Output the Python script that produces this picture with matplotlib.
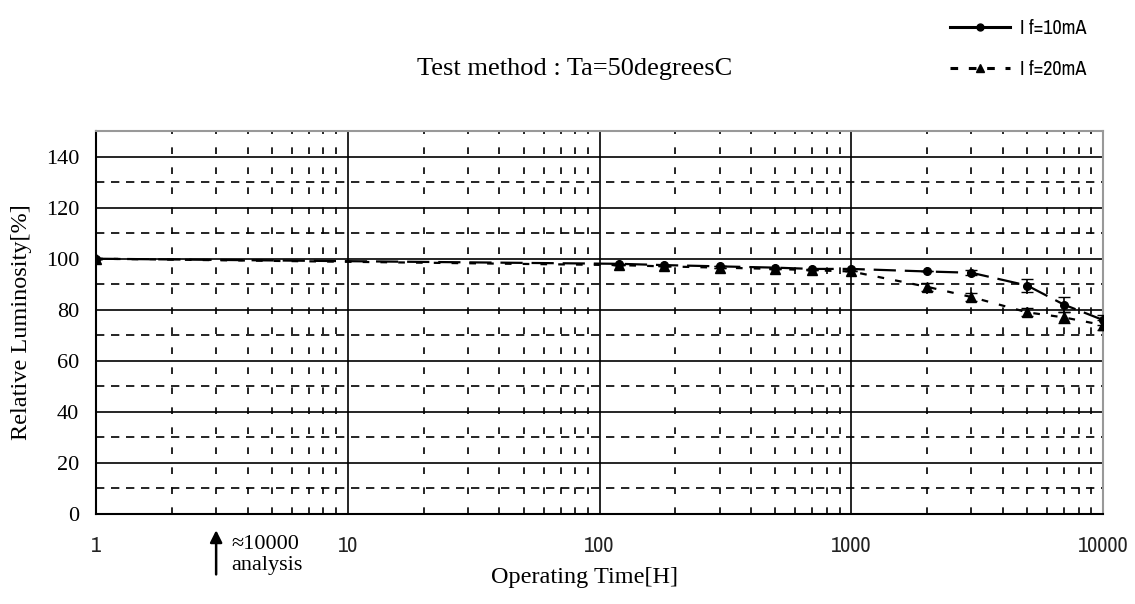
import numpy as np
import matplotlib
matplotlib.use("Agg")
import matplotlib.pyplot as plt
from matplotlib.lines import Line2D
from matplotlib.font_manager import fontManager, FontProperties
from matplotlib.ticker import LogLocator, FixedLocator, NullFormatter

# data
hours = [1, 120, 180, 300, 500, 700, 1000, 2000, 3000, 5000, 7000, 10000]
lum_10ma = [100, 98, 97.5, 97, 96.5, 96, 96, 95, 94.5, 89.5, 82, 76]
lum_20ma = [100, 97.5, 97, 96.5, 96, 95.5, 95, 89, 85, 79, 77, 74]
err_10ma = [0, 0, 0, 0, 0, 0, 0, 0, 1, 2.5, 3, 2]
err_20ma = [0, 0, 0, 0, 0, 0, 0, 1.5, 1.5, 1.5, 2, 2]

x_ticks = [1, 10, 100, 1000, 10000]
x_labels = ["1", "10", "100", "1000", "10000"]
y_ticks = [0, 20, 40, 60, 80, 100, 120, 140]

serif = "Liberation Serif"


def narrow_font(size):
    # pick a regular-weight condensed sans face if one is installed
    for f in fontManager.ttflist:
        if f.style != "normal" or f.weight not in (400, "normal", "regular"):
            continue
        if "Narrow" in f.name or "Condensed" in f.name:
            return FontProperties(family=f.name, weight="normal", size=size)
    for f in fontManager.ttflist:
        if f.style != "normal" or f.weight not in (400, "normal", "regular"):
            continue
        if f.stretch in ("condensed", "semi-condensed", "extra-condensed"):
            return FontProperties(family=f.name, stretch=f.stretch, weight="normal", size=size)
    return FontProperties(family="Liberation Sans", size=size)


fig = plt.figure(figsize=(11.35, 6.04), dpi=100)
ax = fig.add_axes([0.0846, 0.149, 0.8872, 0.634])

# grid
for y in range(20, 150, 20):
    ax.axhline(y, color="black", lw=1.2, zorder=1)
for y in range(10, 150, 20):
    ax.axhline(y, color="black", lw=1.2, ls=(0, (5, 4)), zorder=1)
for d in [1, 10, 100, 1000]:
    if d > 1:
        ax.axvline(d, color="black", lw=1.2, zorder=1)
    for m in range(2, 10):
        ax.axvline(d * m, color="black", lw=1.2, ls=(0, (4, 8)), zorder=1)

ax.errorbar(hours, lum_10ma, yerr=err_10ma, color="black", lw=1.6,
            ls=(0, (10, 4)), marker="o", ms=5.5, capsize=4, elinewidth=1.2, zorder=3)
ax.errorbar(hours, lum_20ma, yerr=err_20ma, color="black", lw=1.6,
            ls=(0, (3, 5)), marker="^", ms=6.5, capsize=4, elinewidth=1.2, zorder=3)

ax.set_xscale("log")
ax.set_xlim(1, 10000)
ax.set_ylim(0, 150)
ax.xaxis.set_major_locator(FixedLocator(x_ticks))
ax.set_xticklabels(x_labels, fontproperties=narrow_font(16), color="#222222")
ax.xaxis.set_minor_locator(LogLocator(subs=np.arange(2, 10)))
ax.xaxis.set_minor_formatter(NullFormatter())
ax.set_yticks(y_ticks)
ax.set_yticklabels([str(v) for v in y_ticks], fontfamily=serif, fontsize=16)
ax.tick_params(which="both", length=0)
ax.tick_params(axis="x", pad=16)
ax.tick_params(axis="y", pad=12)

for s in ["left", "bottom"]:
    ax.spines[s].set_linewidth(1.5)
for s in ["top", "right"]:
    ax.spines[s].set_color("#999999")
    ax.spines[s].set_linewidth(1.5)

ax.set_xlabel("Operating Time[H]", fontfamily=serif, fontsize=17.5, labelpad=8)
ax.xaxis.label.set_x(0.485)
ax.set_ylabel("Relative Luminosity[%]", fontfamily=serif, fontsize=17.5, labelpad=10)

fig.text(0.506, 0.885, "Test method : Ta=50degreesC", fontfamily=serif,
         fontsize=19, ha="center", va="center")

# analysis marker under the axis
trans = ax.get_xaxis_transform()
ax.annotate("", xy=(3, -0.035), xytext=(3, -0.165), xycoords=trans, textcoords=trans,
            arrowprops=dict(arrowstyle="-|>", color="black", lw=1.8, mutation_scale=18))
ax.text(3.45, -0.055, "\u224810000\nanalysis", transform=trans, fontfamily=serif,
        fontsize=16, va="top", ha="left", linespacing=1.15)

handles = [
    Line2D([], [], color="black", lw=2.2, marker="o", ms=5),
    Line2D([], [], color="black", lw=2.2, ls=(0, (2.5, 3.5)), marker="^", ms=6),
]
fig.legend(handles, ["I f=10mA", "I f=20mA"], loc="upper left",
           bbox_to_anchor=(0.821, 0.998), frameon=False, handlelength=3.0,
           handletextpad=0.5, labelspacing=1.1, prop=narrow_font(14.5))

fig.savefig("out.png", dpi=100)
